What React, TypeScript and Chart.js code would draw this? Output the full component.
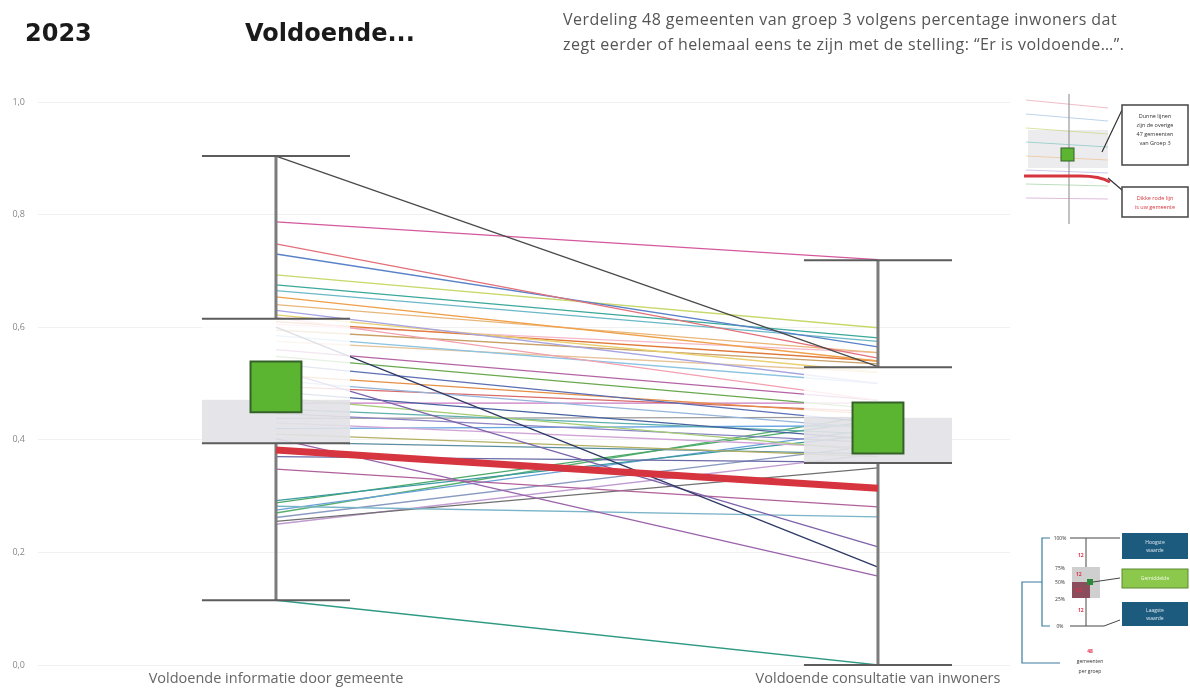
import React, { useEffect, useRef } from "react";
import { Chart, registerables } from "chart.js";

Chart.register(...registerables);

// ---------- data ----------
const categories = ["Voldoende informatie door gemeente", "Voldoende consultatie van inwoners"];
const yTickLabels = ["0,0", "0,2", "0,4", "0,6", "0,8", "1,0"];

// 47 other municipalities: value on the left axis and on the right axis
const leftValues = [
  0.904, 0.787, 0.748, 0.73, 0.693, 0.675, 0.665, 0.654, 0.64, 0.63, 0.622, 0.617,
  0.61, 0.605, 0.6, 0.595, 0.585, 0.575, 0.56, 0.548, 0.535, 0.525, 0.515, 0.505,
  0.495, 0.485, 0.475, 0.465, 0.455, 0.447, 0.438, 0.43, 0.42, 0.41, 0.402, 0.396,
  0.37, 0.348, 0.292, 0.288, 0.282, 0.275, 0.27, 0.262, 0.255, 0.25, 0.115,
];
const rightValues = [
  0.53, 0.72, 0.545, 0.565, 0.599, 0.581, 0.575, 0.54, 0.555, 0.5, 0.52, 0.47,
  0.54, 0.555, 0.174, 0.535, 0.5, 0.52, 0.47, 0.455, 0.43, 0.21, 0.445, 0.42,
  0.45, 0.4, 0.38, 0.465, 0.41, 0.395, 0.44, 0.385, 0.425, 0.37, 0.158, 0.375,
  0.36, 0.281, 0.41, 0.435, 0.263, 0.42, 0.445, 0.39, 0.35, 0.375, 0.0,
];
// highlighted municipality (thick red line)
const highlightValues = [0.382, 0.314];

// box summary per category
const maxValues = [0.904, 0.719];
const q3Values = [0.615, 0.529];
const medianValues = [0.471, 0.439];
const q1Values = [0.394, 0.359];
const minValues = [0.115, 0.0];
const meanValues = [0.494, 0.421];

// ---------- styles ----------
const lineColors = [
  "#4a4a4a", "#d4589e", "#e2707a", "#5a82c8", "#c9d86a", "#3aa89a", "#6ab8c8", "#f0a04a",
  "#e9b67a", "#a8a4e2", "#e8d070", "#f2a0b0",
  "#e07a3a", "#f4b8c8", "#2e3a66", "#c8a068", "#8cc4e2", "#e6c49a", "#b464a4", "#6aa84f",
  "#5b6fb4", "#7d62aa", "#e58e45", "#94b4dc", "#d86a6a", "#46629e", "#a2cc72", "#c87ac2",
  "#5cb0ae", "#8c84c4", "#9c9c9c", "#d0a4d6", "#6aa6e2", "#b4b062", "#9a62aa", "#5a8ea0",
  "#6a6aa8", "#b0609a", "#3a9aa0", "#4aa868", "#7ab4c8", "#6aa0d8", "#58b070", "#8a9ac0",
  "#707070", "#c09ad0", "#2f9a84",
];
const BOX_HALF = 0.123;

const boxPlugin = {
  id: "boxes",
  afterDatasetDraw(chart: any, args: any) {
    if (args.index !== 0) return;
    const ctx = chart.ctx;
    const xs = chart.scales.x;
    const ys = chart.scales.y;
    ctx.save();
    for (let i = 0; i < categories.length; i++) {
      const xl = xs.getPixelForValue(i - BOX_HALF);
      const xr = xs.getPixelForValue(i + BOX_HALF);
      const xc = xs.getPixelForValue(i);
      const yMax = ys.getPixelForValue(maxValues[i]);
      const yQ3 = ys.getPixelForValue(q3Values[i]);
      const yMed = ys.getPixelForValue(medianValues[i]);
      const yQ1 = ys.getPixelForValue(q1Values[i]);
      const yMin = ys.getPixelForValue(minValues[i]);
      ctx.fillStyle = "rgba(255,255,255,0.84)";
      ctx.fillRect(xl, yQ3, xr - xl, yMed - yQ3);
      ctx.fillStyle = "rgba(226,226,231,0.9)";
      ctx.fillRect(xl, yMed, xr - xl, yQ1 - yMed);
      ctx.strokeStyle = "#7c7c7c";
      ctx.lineWidth = 3;
      ctx.beginPath();
      ctx.moveTo(xc, yMax);
      ctx.lineTo(xc, yQ3);
      ctx.moveTo(xc, yQ1);
      ctx.lineTo(xc, yMin);
      ctx.stroke();
      ctx.strokeStyle = "#5c5c5c";
      ctx.lineWidth = 2;
      ctx.beginPath();
      for (const yy of [yMax, yQ3, yQ1, yMin]) {
        ctx.moveTo(xl, yy);
        ctx.lineTo(xr, yy);
      }
      ctx.stroke();
    }
    ctx.restore();
  },
};

function ChartCanvas() {
  const ref = useRef<HTMLCanvasElement | null>(null);
  useEffect(() => {
    if (!ref.current) return;
    const datasets: any[] = leftValues.map((l, i) => ({
      data: [
        { x: 0, y: l },
        { x: 1, y: rightValues[i] },
      ],
      borderColor: lineColors[i % lineColors.length],
      borderWidth: 1.3,
      pointRadius: 0,
      fill: false,
      order: 3,
    }));
    datasets.push({
      data: [
        { x: 0, y: highlightValues[0] },
        { x: 1, y: highlightValues[1] },
      ],
      borderColor: "#d6353f",
      borderWidth: 7,
      borderCapStyle: "butt",
      pointRadius: 0,
      fill: false,
      order: 2,
    });
    datasets.push({
      data: meanValues.map((v, i) => ({ x: i, y: v })),
      showLine: false,
      pointStyle: "rect",
      pointRadius: 36,
      pointHoverRadius: 36,
      pointBackgroundColor: "#5cb531",
      pointBorderColor: "#35602a",
      pointBorderWidth: 2,
      order: 1,
    });
    const chart = new Chart(ref.current, {
      type: "line",
      data: { datasets },
      plugins: [boxPlugin],
      options: {
        animation: false,
        responsive: false,
        devicePixelRatio: 1,
        layout: { autoPadding: false, padding: { top: 102, right: 180, bottom: 0, left: 0 } },
        plugins: { legend: { display: false }, tooltip: { enabled: false } },
        scales: {
          x: {
            type: "linear",
            min: -0.3953,
            max: 1.2193,
            afterBuildTicks: (scale: any) => {
              scale.ticks = categories.map((_, i) => ({ value: i }));
            },
            afterFit: (scale: any) => {
              scale.height = 23;
            },
            ticks: {
              callback: (v: any) => categories[v] ?? "",
              font: { family: "'Open Sans'", size: 14.5 },
              color: "#666",
              padding: 5,
              maxRotation: 0,
              autoSkip: false,
            },
            grid: { display: false, drawTicks: false },
            border: { display: false },
          },
          y: {
            type: "linear",
            min: 0,
            max: 1,
            afterFit: (scale: any) => {
              scale.width = 38;
            },
            ticks: {
              stepSize: 0.2,
              callback: (v: any) => yTickLabels[Math.round(Number(v) * 5)] ?? "",
              font: { family: "'Open Sans'", size: 9 },
              color: "#888",
              padding: 13,
            },
            grid: { color: "#f1f1f1", drawTicks: false },
            border: { display: false },
          },
        },
      },
    });
    return () => chart.destroy();
  }, []);
  return (
    <canvas
      ref={ref}
      width={1190}
      height={688}
      style={{ position: "absolute", left: 0, top: 0, width: 1190, height: 688 }}
    />
  );
}

function InsetLegend() {
  const fl = ["#e8a0b0", "#a0c0e0", "#c8d880", "#80c8c0", "#f0c090", "#b0b0e0", "#a0d0a0", "#d0a0d0"];
  return (
    <svg
      width={170}
      height={140}
      style={{ position: "absolute", left: 1020, top: 90 }}
      viewBox="0 0 170 140"
    >
      <rect x={8} y={40} width={80} height={38} fill="#ececef" />
      {fl.map((c, i) => (
        <line key={i} x1={6} y1={10 + i * 14} x2={88} y2={18 + i * 13} stroke={c} strokeWidth={1} opacity={0.7} />
      ))}
      <line x1={49} y1={4} x2={49} y2={134} stroke="#999" strokeWidth={1.2} />
      <rect x={41} y={58} width={13} height={13} fill="#5cb531" stroke="#35602a" strokeWidth={1} />
      <path d="M4 86 L60 86 Q80 86 90 92" stroke="#d6353f" strokeWidth={3} fill="none" />
      <line x1={102} y1={20} x2={82} y2={62} stroke="#333" strokeWidth={1.2} />
      <rect x={102} y={15} width={66} height={60} fill="#fff" stroke="#444" strokeWidth={1.5} />
      <text x={135} y={28} fontSize={5.5} textAnchor="middle" fill="#333" fontFamily="Open Sans">Dunne lijnen</text>
      <text x={135} y={37} fontSize={5.5} textAnchor="middle" fill="#333" fontFamily="Open Sans">zijn de overige</text>
      <text x={135} y={46} fontSize={5.5} textAnchor="middle" fill="#333" fontFamily="Open Sans">47 gemeenten</text>
      <text x={135} y={55} fontSize={5.5} textAnchor="middle" fill="#333" fontFamily="Open Sans">van Groep 3</text>
      <line x1={88} y1={88} x2={102} y2={100} stroke="#333" strokeWidth={1.2} />
      <rect x={102} y={97} width={66} height={30} fill="#fff" stroke="#444" strokeWidth={1.5} />
      <text x={135} y={110} fontSize={5.5} textAnchor="middle" fill="#d6353f" fontFamily="Open Sans">Dikke rode lijn</text>
      <text x={135} y={119} fontSize={5.5} textAnchor="middle" fill="#d6353f" fontFamily="Open Sans">is uw gemeente</text>
    </svg>
  );
}

function BoxLegend() {
  const tf = { fontFamily: "Open Sans", fontSize: 5 } as any;
  return (
    <svg
      width={180}
      height={168}
      style={{ position: "absolute", left: 1010, top: 520 }}
      viewBox="0 0 180 168"
    >
      <path d="M40 18 L32 18 L32 106 L40 106" stroke="#3a7ca0" strokeWidth={1.2} fill="none" />
      <path d="M32 62 L12 62 L12 143 L50 143" stroke="#3a7ca0" strokeWidth={1.2} fill="none" />
      <text x={50} y={20} {...tf} textAnchor="middle" fill="#333">100%</text>
      <text x={50} y={50} {...tf} textAnchor="middle" fill="#333">75%</text>
      <text x={50} y={64} {...tf} textAnchor="middle" fill="#333">50%</text>
      <text x={50} y={81} {...tf} textAnchor="middle" fill="#333">25%</text>
      <text x={50} y={108} {...tf} textAnchor="middle" fill="#333">0%</text>
      <line x1={60} y1={18} x2={95} y2={18} stroke="#444" strokeWidth={1} />
      <line x1={95} y1={18} x2={110} y2={18} stroke="#444" strokeWidth={1} />
      <line x1={76} y1={18} x2={76} y2={106} stroke="#666" strokeWidth={1.2} />
      <rect x={62} y={47} width={28} height={31} fill="#cfcfcf" />
      <rect x={62} y={62} width={18} height={16} fill="#8b4d5b" />
      <rect x={77} y={59} width={6} height={6} fill="#2a8a3a" />
      <line x1={83} y1={62} x2={110} y2={58} stroke="#444" strokeWidth={1} />
      <text x={68} y={37} {...tf} fill="#e0304a" fontWeight="bold">12</text>
      <text x={66} y={56} {...tf} fill="#e0304a" fontWeight="bold">12</text>
      <text x={66} y={72} {...tf} fill="#e0304a" fontWeight="bold">12</text>
      <text x={68} y={92} {...tf} fill="#e0304a" fontWeight="bold">12</text>
      <line x1={60} y1={106} x2={94} y2={106} stroke="#444" strokeWidth={1} />
      <line x1={94} y1={106} x2={110} y2={100} stroke="#444" strokeWidth={1} />
      <rect x={112} y={13} width={66} height={26} fill="#1c5b7d" />
      <text x={145} y={24} {...tf} textAnchor="middle" fill="#dfe8f0">Hoogste</text>
      <text x={145} y={32} {...tf} textAnchor="middle" fill="#dfe8f0">waarde</text>
      <rect x={112} y={49} width={66} height={19} fill="#8cc84b" stroke="#5a8a30" strokeWidth={1} />
      <text x={145} y={60} {...tf} textAnchor="middle" fill="#f4faec">Gemiddelde</text>
      <rect x={112} y={82} width={66} height={24} fill="#1c5b7d" />
      <text x={145} y={92} {...tf} textAnchor="middle" fill="#dfe8f0">Laagste</text>
      <text x={145} y={100} {...tf} textAnchor="middle" fill="#dfe8f0">waarde</text>
      <text x={80} y={133} {...tf} textAnchor="middle" fill="#e0304a" fontWeight="bold">48</text>
      <text x={80} y={143} {...tf} textAnchor="middle" fill="#333">gemeenten</text>
      <text x={80} y={153} {...tf} textAnchor="middle" fill="#333">per groep</text>
    </svg>
  );
}

export default function App() {
  return (
    <div
      style={{
        position: "absolute",
        left: 0,
        top: 0,
        width: 1190,
        height: 688,
        background: "#fff",
        overflow: "hidden",
      }}
    >
      <ChartCanvas />
      <div
        style={{
          position: "absolute",
          left: 25,
          top: 19,
          fontFamily: "'DejaVu Sans'",
          fontWeight: "bold",
          fontSize: 24,
          lineHeight: "28px",
          color: "#1a1a1a",
        }}
      >
        2023
      </div>
      <div
        style={{
          position: "absolute",
          left: 245,
          top: 19,
          fontFamily: "'DejaVu Sans'",
          fontWeight: "bold",
          fontSize: 24,
          lineHeight: "28px",
          color: "#1a1a1a",
        }}
      >
        Voldoende...
      </div>
      <div
        style={{
          position: "absolute",
          left: 563,
          top: 7,
          fontFamily: "'Open Sans'",
          fontSize: 16,
          letterSpacing: "0.45px",
          lineHeight: "25px",
          color: "#555",
          whiteSpace: "nowrap",
        }}
      >
        Verdeling 48 gemeenten van groep 3 volgens percentage inwoners dat
        <br />
        zegt eerder of helemaal eens te zijn met de stelling: “Er is voldoende…”.
      </div>
      <InsetLegend />
      <BoxLegend />
    </div>
  );
}
